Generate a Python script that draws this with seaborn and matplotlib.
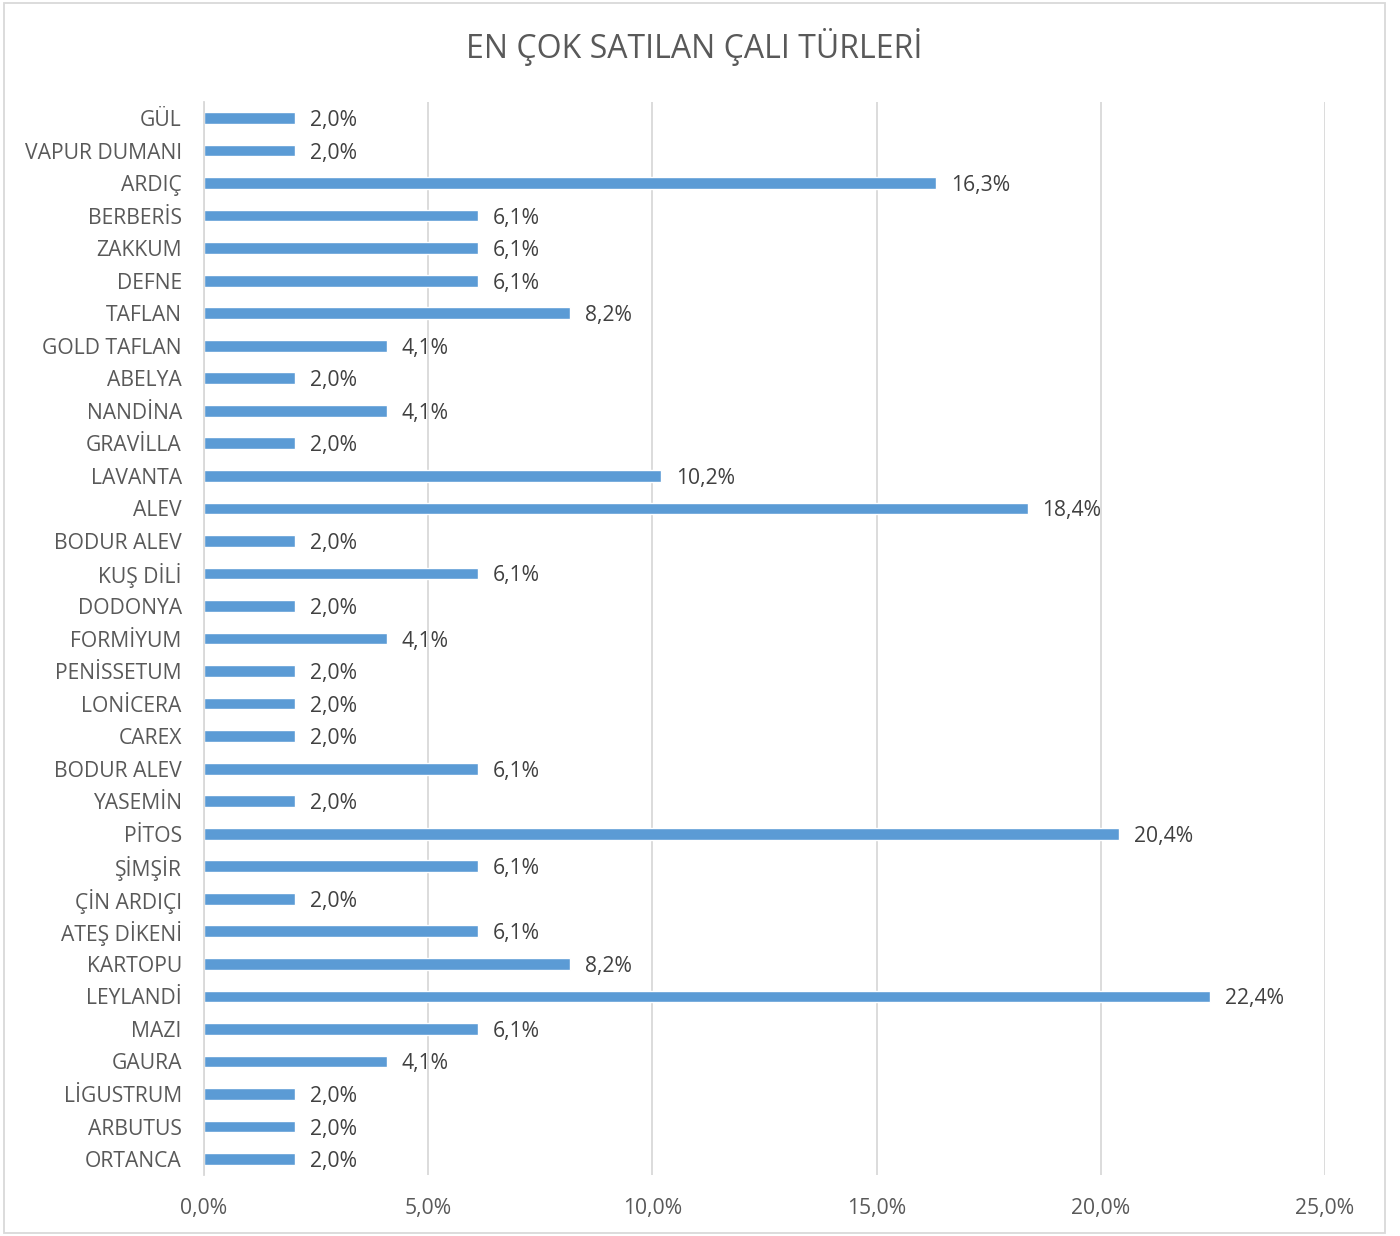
import matplotlib
matplotlib.use("Agg")
import matplotlib.pyplot as plt
import seaborn as sns
import pandas as pd
from matplotlib.patches import Rectangle

categories = ["GÜL", "VAPUR DUMANI", "ARDIÇ", "BERBERİS", "ZAKKUM", "DEFNE", "TAFLAN",
              "GOLD TAFLAN", "ABELYA", "NANDİNA", "GRAVİLLA", "LAVANTA", "ALEV",
              "BODUR ALEV", "KUŞ DİLİ", "DODONYA", "FORMİYUM", "PENİSSETUM", "LONİCERA",
              "CAREX", "BODUR ALEV", "YASEMİN", "PİTOS", "ŞİMŞİR", "ÇİN ARDIÇI",
              "ATEŞ DİKENİ", "KARTOPU", "LEYLANDİ", "MAZI", "GAURA", "LİGUSTRUM",
              "ARBUTUS", "ORTANCA"]
values = [2.04, 2.04, 16.33, 6.12, 6.12, 6.12, 8.16, 4.08, 2.04, 4.08, 2.04, 10.2, 18.37,
          2.04, 6.12, 2.04, 4.08, 2.04, 2.04, 2.04, 6.12, 2.04, 20.41, 6.12, 2.04, 6.12, 8.16,
          22.44, 6.12, 4.08, 2.04, 2.04, 2.04]
xticks = [0, 5, 10, 15, 20, 25]

sns.set_theme(style="white")
plt.rcParams['font.family'] = ['Open Sans', 'DejaVu Sans']

# unique keys so that the duplicated category name keeps its own row
keys = [f"{i:02d}" for i in range(len(categories))]
df = pd.DataFrame({"key": keys, "cat": categories, "val": values})

fig = plt.figure(figsize=(14, 12.36), dpi=100)
ax = fig.add_axes([0.1457, 0.0491, 0.9464 - 0.1457, 0.9177 - 0.0491])

sns.barplot(data=df, x="val", y="key", orient="h", color="#5B9BD5", saturation=1,
            width=0.36, ax=ax, order=keys)

ax.set_yticks(range(len(categories)))
ax.set_yticklabels(categories)
ax.set_xlim(0, 25)
ax.set_xticks(xticks)
ax.set_xticklabels([f"{t:.1f}%".replace(".", ",") for t in xticks])
ax.grid(axis="x", color="#D9D9D9", linewidth=1.3)
ax.set_axisbelow(True)
for s in ["top", "right", "bottom"]:
    ax.spines[s].set_visible(False)
ax.spines["left"].set_color("#D9D9D9")
ax.spines["left"].set_linewidth(1.3)
ax.set_xlabel("")
ax.set_ylabel("")
ax.tick_params(axis="y", length=0, pad=16, labelsize=15.2, labelcolor="#595959")
ax.tick_params(axis="x", length=0, pad=16, labelsize=15.2, labelcolor="#595959")
for lbl in ax.get_yticklabels():
    lbl.set_verticalalignment("center_baseline")

for i, v in enumerate(values):
    ax.text(v + 0.33, i, f"{v:.1f}%".replace(".", ","), va="center_baseline", ha="left",
            fontsize=15.2, color="#404040")

fig.text(0.496, 0.962, "EN ÇOK SATILAN ÇALI TÜRLERİ", ha="center", va="center",
         fontsize=23, color="#595959")

fig.patches.append(Rectangle((4 / 1400, 3 / 1236), 1381 / 1400, 1230 / 1236,
                             transform=fig.transFigure, fill=False,
                             edgecolor="#D9D9D9", linewidth=1.3))

fig.savefig("out.png", dpi=100, facecolor="white")
